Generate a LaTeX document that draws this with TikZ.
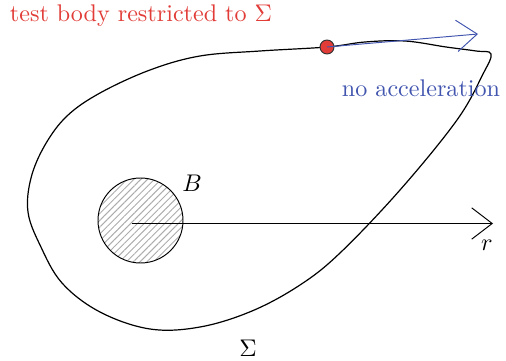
\documentclass[tikz,border=0pt]{standalone}
\usetikzlibrary{arrows.meta,patterns.meta}
\definecolor{tred}{RGB}{225,60,55}
\definecolor{tblue}{RGB}{65,85,175}
\tikzset{
  bigarrow/.style={-{Straight Barb[length=8.5pt,width=13pt,line width=0.4pt]}},
}
\begin{document}
\begin{tikzpicture}[x={(0.415pt,0)},y={(0,-0.415pt)}]
\useasboundingbox (0,0) rectangle (506,361);
% surface Sigma
\draw[line width=0.5pt] plot[smooth cycle, tension=0.6] coordinates {
 (327,47) (260,51) (200,56) (150,70) (100,93) (67,116) (45,145) (31,178) (28,212)
 (40,245) (62,283) (100,312) (150,329) (200,327) (252,311) (300,285) (340,253)
 (400,190) (457,120) (483,74) (491,54) (476,51) (446,47) (405,41) (365,42)};
% body B
\node[circle,draw,minimum size=85*0.415pt,inner sep=0pt,pattern={Lines[angle=45,distance=2pt,line width=0.4pt]},pattern color=gray!65] (B) at (140.5,220.5) {};
\node (Blabel) at (192,183) {$B$};
% r axis
\coordinate (rstart) at (132,223.5);
\coordinate (rend) at (493,223.5);
\draw[bigarrow] (rstart) -- (rend);
\node (rlabel) at (487,245) {$r$};
% Sigma label
\node (Slabel) at (248,348) {$\Sigma$};
% test body
\coordinate (vend) at (478,34);
\node[circle,draw=black!80,fill=tred,minimum size=14*0.415pt,inner sep=0pt] (tb) at (327,47) {};
\draw[tblue,bigarrow] (tb.center) -- (vend);
\node[text=tred] (tblabel) at (141,16) {test body restricted to $\Sigma$};
\node[text=tblue] (nolabel) at (421,88) {no acceleration};
\end{tikzpicture}
\end{document}
